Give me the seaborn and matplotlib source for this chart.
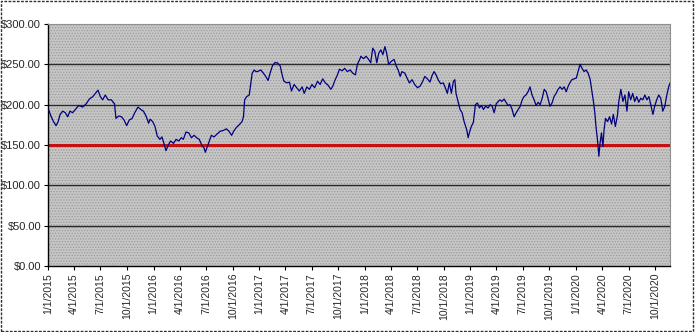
import matplotlib
matplotlib.use("Agg")
import matplotlib.pyplot as plt
from matplotlib.patches import Rectangle
import pandas as pd
import seaborn as sns

dates = [
    "2015-01-03", "2015-01-11", "2015-01-20", "2015-01-29", "2015-02-05", "2015-02-12", "2015-02-21",
    "2015-03-02", "2015-03-10", "2015-03-18", "2015-03-27", "2015-04-08", "2015-04-17", "2015-05-01",
    "2015-05-13", "2015-05-24", "2015-06-05", "2015-06-14", "2015-06-23", "2015-07-01", "2015-07-09",
    "2015-07-18", "2015-07-28", "2015-08-08", "2015-08-19", "2015-08-24", "2015-09-03", "2015-09-12",
    "2015-09-21", "2015-09-30", "2015-10-09", "2015-10-19", "2015-10-28", "2015-11-08", "2015-11-18",
    "2015-11-27", "2015-12-06", "2015-12-15", "2015-12-20", "2015-12-29",
    "2016-01-06", "2016-01-14", "2016-01-23", "2016-01-30", "2016-02-06", "2016-02-13", "2016-02-21",
    "2016-02-29", "2016-03-10", "2016-03-19", "2016-03-28", "2016-04-06", "2016-04-13", "2016-04-22",
    "2016-05-02", "2016-05-11", "2016-05-20", "2016-05-29", "2016-06-07", "2016-06-17", "2016-06-24",
    "2016-06-28", "2016-07-05", "2016-07-12", "2016-07-19", "2016-07-28", "2016-08-06", "2016-08-18",
    "2016-08-29", "2016-09-09", "2016-09-18", "2016-09-27", "2016-10-04", "2016-10-14", "2016-10-23",
    "2016-11-02", "2016-11-07", "2016-11-11", "2016-11-18", "2016-11-27", "2016-12-02", "2016-12-07",
    "2016-12-14", "2016-12-20", "2016-12-25",
    "2017-01-06", "2017-01-15", "2017-01-23", "2017-01-31", "2017-02-07", "2017-02-15", "2017-02-23",
    "2017-03-04", "2017-03-14", "2017-03-22", "2017-03-27", "2017-04-06", "2017-04-15", "2017-04-22",
    "2017-05-01", "2017-05-10", "2017-05-19", "2017-05-29", "2017-06-05", "2017-06-14", "2017-06-23",
    "2017-07-02", "2017-07-11", "2017-07-21", "2017-07-30", "2017-08-08", "2017-08-17", "2017-08-27",
    "2017-09-05", "2017-09-12", "2017-09-19", "2017-09-28", "2017-10-05", "2017-10-14", "2017-10-23",
    "2017-11-01", "2017-11-11", "2017-11-20", "2017-11-29", "2017-12-06", "2017-12-15", "2017-12-18",
    "2017-12-27",
    "2018-01-05", "2018-01-14", "2018-01-21", "2018-01-28", "2018-02-04", "2018-02-11", "2018-02-18",
    "2018-02-25", "2018-03-04", "2018-03-11", "2018-03-17", "2018-03-24", "2018-04-03", "2018-04-12",
    "2018-04-19", "2018-04-26", "2018-05-03", "2018-05-09", "2018-05-19", "2018-05-28", "2018-06-04",
    "2018-06-13", "2018-06-22", "2018-07-02", "2018-07-11", "2018-07-20", "2018-07-27", "2018-08-05",
    "2018-08-14", "2018-08-21", "2018-08-28", "2018-09-04", "2018-09-11", "2018-09-20", "2018-09-29",
    "2018-10-06", "2018-10-13", "2018-10-20", "2018-10-27", "2018-11-03", "2018-11-08", "2018-11-12",
    "2018-11-19", "2018-11-26", "2018-12-03", "2018-12-10", "2018-12-19", "2018-12-24", "2018-12-28",
    "2019-01-04", "2019-01-11", "2019-01-18", "2019-01-25", "2019-02-01", "2019-02-08", "2019-02-15",
    "2019-02-22", "2019-03-03", "2019-03-10", "2019-03-17", "2019-03-24", "2019-03-31", "2019-04-07",
    "2019-04-13", "2019-04-20", "2019-04-27", "2019-05-04", "2019-05-11", "2019-05-18", "2019-05-25",
    "2019-06-01", "2019-06-08", "2019-06-15", "2019-06-22", "2019-06-29", "2019-07-05", "2019-07-12",
    "2019-07-19", "2019-07-26", "2019-08-02", "2019-08-09", "2019-08-16", "2019-08-23", "2019-08-30",
    "2019-09-06", "2019-09-13", "2019-09-20", "2019-09-26", "2019-10-03", "2019-10-10", "2019-10-17",
    "2019-10-24", "2019-10-31", "2019-11-07", "2019-11-14", "2019-11-21", "2019-11-28", "2019-12-05",
    "2019-12-12", "2019-12-18", "2019-12-25",
    "2020-01-02", "2020-01-08", "2020-01-15", "2020-01-22", "2020-01-29", "2020-02-05", "2020-02-12",
    "2020-02-19", "2020-02-26", "2020-03-02", "2020-03-06", "2020-03-10", "2020-03-15", "2020-03-20",
    "2020-03-24", "2020-03-29", "2020-04-03", "2020-04-07", "2020-04-12", "2020-04-19", "2020-04-26",
    "2020-05-03", "2020-05-09", "2020-05-16", "2020-05-23", "2020-05-28", "2020-06-04", "2020-06-11",
    "2020-06-18", "2020-06-25", "2020-07-01", "2020-07-08", "2020-07-15", "2020-07-22", "2020-07-29",
    "2020-08-05", "2020-08-12", "2020-08-19", "2020-08-26", "2020-09-02", "2020-09-09", "2020-09-16",
    "2020-09-23", "2020-09-29", "2020-10-06", "2020-10-13", "2020-10-20", "2020-10-27", "2020-11-03",
    "2020-11-10", "2020-11-17", "2020-11-24",
]

prices = [
    194, 186, 179, 174, 179, 188, 192,
    190, 185, 192, 190, 195, 199, 197,
    201, 207, 210, 214, 218, 210, 206,
    212, 206, 206, 201, 183, 186, 185,
    181, 174, 181, 183, 190, 197, 194,
    192, 186, 177, 182, 179,
    173, 161, 157, 160, 152, 143, 150,
    155, 152, 157, 155, 159, 157, 166,
    165, 159, 162, 159, 157, 149, 146,
    141, 148, 155, 162, 160, 163, 167,
    168, 170, 167, 162, 167, 172, 175,
    179, 185, 206, 210, 212, 225, 239,
    243, 241, 241,
    243, 239, 235, 230, 239, 248, 252,
    252, 248, 235, 229, 227, 228, 217,
    225, 221, 217, 222, 214, 222, 219,
    225, 221, 229, 225, 232, 227, 224,
    219, 223, 230, 237, 244, 242, 245,
    241, 243, 239, 237, 250, 257, 260,
    257,
    260, 256, 252, 270, 266, 252, 264,
    268, 262, 272, 264, 250, 254, 256,
    248, 243, 235, 241, 239, 232, 227,
    231, 225, 221, 223, 229, 235, 232,
    228, 236, 241, 237, 231, 226, 227,
    221, 214, 227, 214, 229, 231, 214,
    204, 194, 190, 179, 169, 159, 165,
    173, 178, 200, 202, 196, 199, 194,
    198, 196, 200, 198, 190, 201, 204,
    206, 204, 207, 203, 199, 200, 194,
    185, 190, 194, 198, 206, 210, 212,
    216, 222, 212, 206, 199, 203, 200,
    208, 219, 216, 208, 198, 202, 210,
    214, 219, 222, 219, 222, 216, 223,
    228, 231, 232,
    233, 241, 250, 245, 241, 243, 239,
    231, 214, 202, 190, 173, 157, 136,
    152, 165, 148, 169, 183, 179, 185,
    176, 188, 173, 186, 204, 219, 204,
    212, 192, 216, 206, 214, 204, 210,
    203, 208, 206, 212, 206, 210, 199,
    188, 198, 206, 212, 208, 192, 198,
    212, 223, 229,
]

threshold = 150
y_ticks = [0, 50, 100, 150, 200, 250, 300]
x_tick_dates = pd.date_range("2015-01-01", "2020-10-01", freq="QS")
x_start = "2015-01-01"
x_end = "2020-11-21"

df = pd.DataFrame({"date": pd.to_datetime(dates), "price": prices})

sns.set_style("white")
plt.rcParams["font.family"] = ["Liberation Sans", "DejaVu Sans"]
plt.rcParams["hatch.linewidth"] = 0.6

fig = plt.figure(figsize=(6.96, 3.32), dpi=100)
fig.patches.append(Rectangle((0.001, 0.002), 0.995, 0.995, transform=fig.transFigure,
                             fill=False, edgecolor="#303030", linewidth=1.0, linestyle=(0, (2, 1))))
ax = fig.add_axes([48 / 696, (332 - 266) / 332, 622 / 696, 242 / 332])

ax.set_facecolor("#c6c6c6")
ax.add_patch(Rectangle((0, 0), 1, 1, transform=ax.transAxes, facecolor="none",
                       edgecolor="#9a9a9a", hatch="......", linewidth=0, zorder=0))

for v in y_ticks[1:-1]:
    ax.axhline(v, color="#2a2a2a", linewidth=1.0, zorder=1)

ax.axhline(threshold, color="#c41010", linewidth=2.2, zorder=2)

sns.lineplot(data=df, x="date", y="price", ax=ax, color="#000080", linewidth=0.9, zorder=3)

ax.set_ylim(0, 300)
ax.set_xlim(pd.Timestamp(x_start), pd.Timestamp(x_end))
ax.set_yticks(y_ticks)
ax.set_yticklabels([f"${v:,.2f}" for v in y_ticks], fontsize=8)
ax.set_xticks(x_tick_dates)
ax.set_xticklabels([f"{d.month}/{d.day}/{d.year}" for d in x_tick_dates], rotation=90, fontsize=7.5)
ax.tick_params(axis="both", direction="out", length=3, width=0.8, color="#000000", pad=2,
               bottom=True, left=True)
ax.set_xlabel("")
ax.set_ylabel("")
ax.grid(False)

for side in ["left", "bottom"]:
    ax.spines[side].set_color("#000000")
    ax.spines[side].set_linewidth(1.0)
for side in ["top", "right"]:
    ax.spines[side].set_color("#909090")
    ax.spines[side].set_linewidth(0.8)

fig.savefig("out.png", dpi=100)
